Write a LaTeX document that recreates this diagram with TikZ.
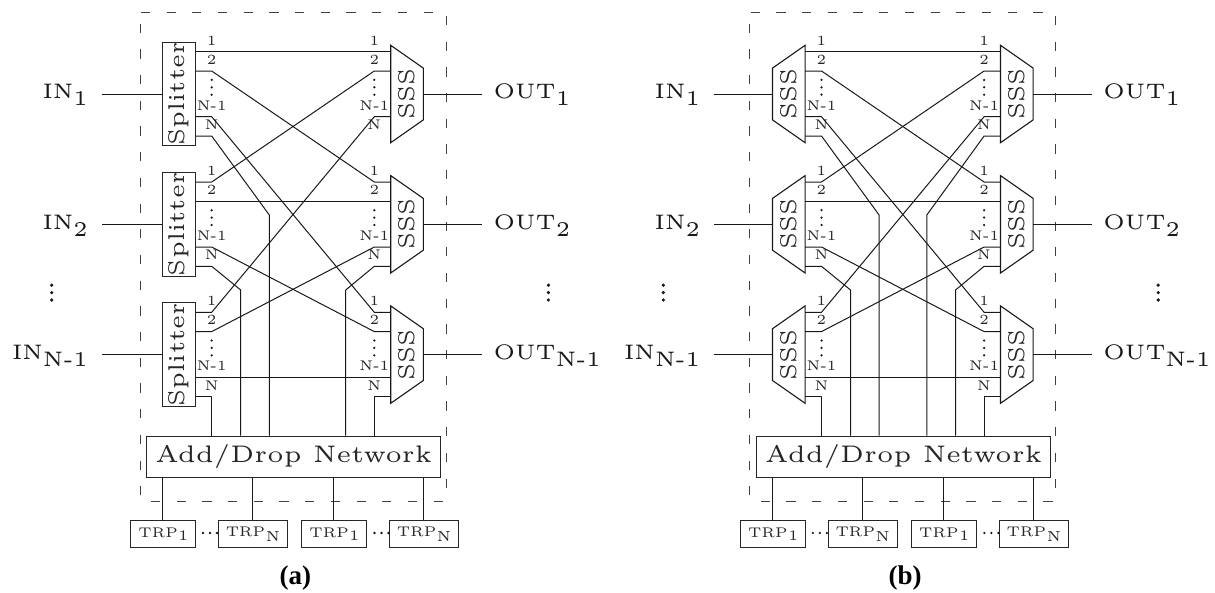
\documentclass[tikz,border=0pt]{standalone}
\usepackage{fontspec}
\newfontfamily\lmfive{lmroman5-regular.otf}
\newfontfamily\capfont{Liberation Serif}
\tikzset{
  wire/.style={draw=black!90,line width=1pt,line join=round},
  boxed/.style={draw=black!85,line width=1.1pt,inner sep=0pt},
  muxshape/.style={draw=black!90,line width=1.1pt,line join=miter},
  plab/.style={inner sep=0pt,font=\lmfive\fontsize{14}{14}\selectfont,text=black!85},
  biglab/.style={inner sep=0pt,font=\lmfive\fontsize{22.8}{24}\selectfont,text=black!85},
  adlab/.style={inner sep=0pt,font=\lmfive\fontsize{24}{26}\selectfont,text=black!85},
  inlab/.style={inner sep=0pt,font=\lmfive\fontsize{21}{24}\selectfont,text=black!90,anchor=base east},
  outlab/.style={inner sep=0pt,font=\lmfive\fontsize{21}{24}\selectfont,text=black!90,anchor=base west},
  trplab/.style={inner sep=0pt,font=\lmfive\fontsize{14}{14}\selectfont,text=black!85},
  framepath/.style={draw=black!75,line width=1pt,dash pattern=on 9.2pt off 16.5pt},
}
\newcommand{\subs}[2]{#1\raisebox{-6.7pt}{#2}}
\newcommand{\trpa}{TRP\hspace{0.5pt}\raisebox{-3.5pt}{\fontsize{14.5}{14.5}\selectfont 1}}
\newcommand{\trpb}{TRP\hspace{0.5pt}\raisebox{-5.5pt}{\fontsize{14.5}{14.5}\selectfont N}}
\newcommand{\vdotsat}[3]{\fill[black!90] (#1,#2-7.4) circle (#3) (#1,#2) circle (#3) (#1,#2+7.4) circle (#3);}
\newcommand{\hdotsat}[2]{\fill[black!90] (#1,#2) circle (1.3pt) (#1+7,#2) circle (1.3pt) (#1+14,#2) circle (1.3pt);}
\newcommand{\portlabels}[1]{%
  \foreach \yy in {45.3,175.6,305.9}{
    \node[plab] at (#1,\yy-4.8) {1};
    \node[plab] at (#1,\yy+14.4) {2};
    \vdotsat{#1}{\yy+42}{1.25pt}
    \node[plab] at (#1,\yy+60.2) {N-1};
    \node[plab] at (#1,\yy+79.6) {N};
  }
}
% #1 prefix, #2 caption, #3 right edge of the IN labels, #4 length of input lines, #5 x of left dots
\newcommand{\panel}[5]{%
  \draw[framepath] (140.8,12.7) -- (446,12.7) -- (446,501) -- (140,501) -- (140,12.7);
  \foreach \r/\yy in {1/45.3,2/175.6,3/305.9}{
    \coordinate (#1Lin\r) at (162.7,\yy+48.7);
    \coordinate (#1Rout\r) at (423.3,\yy+48.7);
    \foreach \p/\d in {1/6.4,2/25.7,3/71.4,4/90.7}{
      \coordinate (#1L\r-\p) at (195.3,\yy+\d);
      \coordinate (#1R\r-\p) at (390.7,\yy+\d);
      \coordinate (#1LB\r-\p) at (211.7,\yy+\d);
      \coordinate (#1RB\r-\p) at (374.3,\yy+\d);
    }
    \draw[muxshape] (390.7,\yy) -- (423.3,\yy+22.8) -- (423.3,\yy+74.6) -- (390.7,\yy+97.4) -- cycle;
    \node[biglab,rotate=90] (#1Rtxt\r) at (406.7,\yy+48.7) {SSS};
  }
  \portlabels{211.7}
  \portlabels{374.3}
  \foreach \i/\j in {1/2,1/3,2/1,2/3,3/1,3/2}{
    \draw[wire] (#1L\i-\j) -- (#1LB\i-\j) -- (#1RB\j-\i) -- (#1R\j-\i);
  }
  \draw[wire] (#1L1-1) -- (#1R1-1);
  \draw[wire] (#1L2-2) -- (#1R2-2);
  \draw[wire] (#1L3-3) -- (#1R3-3);
  \node[boxed,adlab,draw=black!85,minimum width=293.7pt,minimum height=41pt,anchor=north west] (#1ad) at (146.3,435.7) {\raisebox{-1.5pt}{Add/Drop Network}};
  \coordinate (#1V1) at (269.3,215);
  \coordinate (#1V2) at (240.7,290);
  \coordinate (#1V5) at (345.7,290);
  \draw[wire] (#1L1-4) -- (#1LB1-4) -- (#1V1) -- (#1V1 |- #1ad.north);
  \draw[wire] (#1L2-4) -- (#1LB2-4) -- (#1V2) -- (#1V2 |- #1ad.north);
  \draw[wire] (#1L3-4) -- (#1LB3-4) -- (#1LB3-4 |- #1ad.north);
  \draw[wire] (#1R2-4) -- (#1RB2-4) -- (#1V5) -- (#1V5 |- #1ad.north);
  \draw[wire] (#1R3-4) -- (#1RB3-4) -- (#1RB3-4 |- #1ad.north);
  \foreach \x/\t/\w/\s/\lab in {162.7/130.3/65/a/\trpa,252.3/217.7/69.3/b/\trpb,333.7/301.3/65/c/\trpa,423.3/388.7/69.6/d/\trpb}{
    \node[boxed,trplab,draw=black!85,minimum width=\w pt,minimum height=27.3pt,anchor=north west] (#1trp\s) at (\t,520) {\lab};
    \draw[wire] (#1ad.south -| \x,0) -- (#1trp\s.north -| \x,0);
  }
  \hdotsat{203}{533}
  \hdotsat{374.5}{533}
  \node[inner sep=0pt] (#1cap) at (295.3,577.5) {\capfont\bfseries\fontsize{27}{28}\selectfont #2};
  \foreach \r/\b/\t in {1/98.3/1,2/229.3/2,3/359.3/N-1}{
    \node[inlab] (#1intxt\r) at (#3,\b) {\subs{IN}{\t}};
    \node[outlab] (#1outtxt\r) at (493.3,\b) {\subs{OUT}{\t}};
    \draw[wire] (#1Lin\r) -- ++(-#4,0);
    \draw[wire] (#1Rout\r) -- ++(58.4,0);
  }
  \vdotsat{#5}{292.6}{1.8pt}
  \vdotsat{548.4}{292.6}{1.8pt}
}
\begin{document}
\begin{tikzpicture}[x=1pt,y=-1pt]
\useasboundingbox (0,0) rectangle (1215,592);
\panel{a}{(a)}{88}{61}{51.7}
\foreach \r/\yy in {1/45.3,2/175.6,3/305.9}{
  \node[boxed,rotate=90,biglab,draw=black!85,minimum width=97.4pt,minimum height=32.6pt] (split\r) at (179,\yy+48.7) {Splitter};
}
\begin{scope}[xshift=609.8pt]
\panel{b}{(b)}{90.3}{58.7}{53.5}
\foreach \yy in {45.3,175.6,305.9}{
  \draw[muxshape] (195.3,\yy) -- (162.7,\yy+22.8) -- (162.7,\yy+74.6) -- (195.3,\yy+97.4) -- cycle;
  \node[biglab,rotate=90] at (178.6,\yy+48.7) {SSS};
}
\coordinate (bV6) at (317,215);
\draw[wire] (bR1-4) -- (bRB1-4) -- (bV6) -- (bV6 |- bad.north);
\end{scope}
\end{tikzpicture}
\end{document}
